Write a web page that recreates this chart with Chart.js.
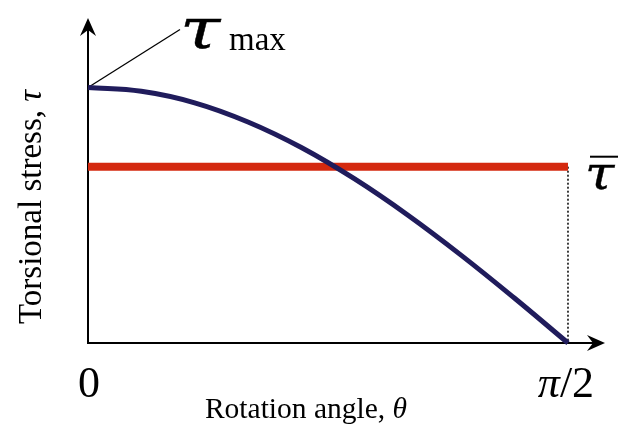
<!DOCTYPE html>
<html>
<head>
<meta charset="utf-8">
<script src="https://cdn.jsdelivr.net/npm/chart.js@4/dist/chart.umd.min.js"></script>
<style>
  html, body { margin: 0; padding: 0; background: #fff; }
  #wrap { width: 623px; height: 433px; }
</style>
</head>
<body>
<div id="wrap"><canvas id="stress" width="623" height="433"></canvas></div>
<script>
// rotation angle in degrees (0 .. pi/2)
const thetaDeg = [0, 10, 20, 30, 40, 50, 60, 70, 80, 90];
// torsional stress, as a fraction of tau_max
const tauCurve = [1.00, 0.985, 0.94, 0.865, 0.765, 0.642, 0.50, 0.343, 0.175, 0.0];
// mean stress level
const tauMean = 0.69;
const tauMax = 1.0;

const tickValues = [0, 90];
const tickLabels = ['0', 'π/2'];
const xTitle = 'Rotation angle, ';
const xTitleSym = 'θ';
const yTitle = 'Torsional stress, ';
const yTitleSym = 'τ';

const serif = '"Liberation Serif", "Times New Roman", serif';
const greek = '"DejaVu Serif", serif';

function arrowHead(ctx, x, y, angle) {
  ctx.save();
  ctx.translate(x, y);
  ctx.rotate(angle);
  ctx.beginPath();
  ctx.moveTo(0, 0);
  ctx.lineTo(-18, -8);
  ctx.lineTo(-12, 0);
  ctx.lineTo(-18, 8);
  ctx.closePath();
  ctx.fill();
  ctx.restore();
}

// wide italic tau, stretched sideways
function wideTau(ctx, size, x, y, stretch) {
  ctx.save();
  ctx.translate(x, y);
  ctx.scale(stretch, 1);
  ctx.font = 'italic ' + size + 'px ' + greek;
  ctx.lineWidth = 0.4;
  ctx.fillText('τ', 0, 0);
  ctx.strokeText('τ', 0, 0);
  ctx.restore();
}

// axes with arrows, tick labels, titles and the two tau labels
const decorations = {
  id: 'decorations',
  beforeDatasetsDraw(chart) {
    const { ctx, chartArea: a, scales: { x, y } } = chart;
    const x0 = x.getPixelForValue(0), y0 = y.getPixelForValue(0);
    ctx.save();
    ctx.strokeStyle = '#000';
    ctx.fillStyle = '#000';
    ctx.lineWidth = 2;
    ctx.beginPath();
    ctx.moveTo(x0, y0);
    ctx.lineTo(x0, a.top + 8);
    ctx.moveTo(x0 - 1, y0);
    ctx.lineTo(a.right - 8, y0);
    ctx.stroke();
    arrowHead(ctx, x0, a.top, -Math.PI / 2);
    arrowHead(ctx, a.right, y0, 0);

    // leader line to the tau_max label
    const py = y.getPixelForValue(tauMax);
    ctx.lineWidth = 1.3;
    ctx.beginPath();
    ctx.moveTo(x0, py);
    ctx.lineTo(x0 + 92, py - 58);
    ctx.stroke();
    ctx.restore();
  },
  afterDraw(chart) {
    const { ctx, scales: { x, y } } = chart;
    const y0 = y.getPixelForValue(0);
    ctx.save();
    ctx.fillStyle = '#000';
    ctx.strokeStyle = '#000';
    ctx.textBaseline = 'alphabetic';

    // x tick labels
    ctx.font = '44px ' + serif;
    ctx.textAlign = 'center';
    ctx.fillText(tickLabels[0], x.getPixelForValue(tickValues[0]) + 1, y0 + 54);
    const pi = 'π', rest = tickLabels[1].slice(1);
    ctx.font = 'italic 44px ' + serif;
    const wPi = ctx.measureText(pi).width;
    ctx.font = '44px ' + serif;
    const wRest = ctx.measureText(rest).width;
    let sx = x.getPixelForValue(tickValues[1]) - 2 - (wPi + wRest) / 2;
    ctx.textAlign = 'left';
    ctx.font = 'italic 44px ' + serif;
    ctx.fillText(pi, sx, y0 + 54);
    ctx.font = '44px ' + serif;
    ctx.fillText(rest, sx + wPi, y0 + 54);

    // x title
    ctx.font = '29.5px ' + serif;
    const wx = ctx.measureText(xTitle).width;
    ctx.font = 'italic 29.5px ' + serif;
    const wxs = ctx.measureText(xTitleSym).width;
    sx = 306 - (wx + wxs) / 2;
    ctx.font = '29.5px ' + serif;
    ctx.fillText(xTitle, sx, y0 + 75);
    ctx.font = 'italic 29.5px ' + serif;
    ctx.fillText(xTitleSym, sx + wx, y0 + 75);

    // y title, rotated
    ctx.save();
    ctx.translate(41, 207);
    ctx.rotate(-Math.PI / 2);
    ctx.font = '33px ' + serif;
    const wy = ctx.measureText(yTitle).width;
    ctx.font = 'italic 33px ' + serif;
    const wys = ctx.measureText(yTitleSym).width;
    sx = -(wy + wys) / 2;
    ctx.font = '33px ' + serif;
    ctx.fillText(yTitle, sx, 0);
    ctx.font = 'italic 33px ' + serif;
    ctx.fillText(yTitleSym, sx + wy, 0);
    ctx.restore();

    // tau_max label
    wideTau(ctx, 56, 180, 48, 1.3);
    ctx.font = '33px ' + serif;
    ctx.fillText('max', 229, 50);

    // mean stress label with overbar
    const my = y.getPixelForValue(tauMean);
    wideTau(ctx, 46, 585, my + 22, 1.15);
    ctx.fillRect(590, my - 11, 28, 2);
    ctx.restore();
  }
};

new Chart(document.getElementById('stress'), {
  type: 'line',
  data: {
    datasets: [
      {
        label: 'tau',
        data: thetaDeg.map((t, i) => ({ x: t, y: tauCurve[i] })),
        borderColor: '#201c5c',
        borderWidth: 5,
        pointRadius: 0,
        tension: 0.4,
        borderCapStyle: 'butt',
        clip: false,
        order: 0
      },
      {
        label: 'mean',
        data: [{ x: thetaDeg[0], y: tauMean }, { x: thetaDeg[thetaDeg.length - 1], y: tauMean }],
        borderColor: '#d4290f',
        borderWidth: 8,
        pointRadius: 0,
        clip: false,
        order: 1
      },
      {
        label: 'edge',
        data: [{ x: thetaDeg[thetaDeg.length - 1], y: tauMean }, { x: thetaDeg[thetaDeg.length - 1], y: 0 }],
        borderColor: '#000',
        borderWidth: 1.5,
        borderDash: [2, 2],
        pointRadius: 0,
        clip: false,
        order: 2
      }
    ]
  },
  options: {
    responsive: false,
    animation: false,
    events: [],
    layout: { padding: { left: 88, right: 18, top: 18, bottom: 90 } },
    plugins: { legend: { display: false }, tooltip: { enabled: false } },
    scales: {
      x: { type: 'linear', min: 0, max: 96.94, display: false },
      y: { type: 'linear', min: 0, max: 1.272, display: false }
    }
  },
  plugins: [decorations]
});
</script>
</body>
</html>
